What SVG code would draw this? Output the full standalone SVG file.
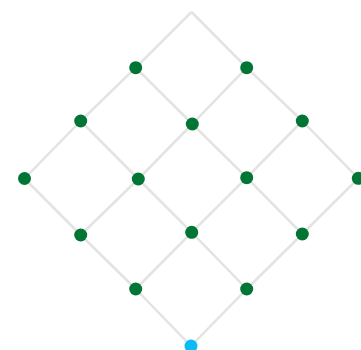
<svg xmlns="http://www.w3.org/2000/svg" width="361" height="350" viewBox="0 0 361 350">
<style>
.e{stroke:#e3e3e3;stroke-width:2.5;fill:none}
.n{fill:#007534}
.s{fill:#0abcf5}
</style>
<rect width="361" height="350" fill="#fff"/>
<g id="connectors">
<line class="e" x1="191.5" y1="12" x2="135.7" y2="67.7"/>
<line class="e" x1="191.5" y1="12" x2="246.7" y2="67.7"/>
<line class="e" x1="135.7" y1="67.7" x2="80.7" y2="121"/>
<line class="e" x1="135.7" y1="67.7" x2="192.3" y2="124"/>
<line class="e" x1="246.7" y1="67.7" x2="192.3" y2="124"/>
<line class="e" x1="246.7" y1="67.7" x2="302.3" y2="121"/>
<line class="e" x1="80.7" y1="121" x2="24.5" y2="178.5"/>
<line class="e" x1="80.7" y1="121" x2="138.3" y2="179"/>
<line class="e" x1="192.3" y1="124" x2="138.3" y2="179"/>
<line class="e" x1="192.3" y1="124" x2="246.7" y2="177.7"/>
<line class="e" x1="302.3" y1="121" x2="246.7" y2="177.7"/>
<line class="e" x1="302.3" y1="121" x2="358.3" y2="178.3"/>
<line class="e" x1="24.5" y1="178.5" x2="80.7" y2="235"/>
<line class="e" x1="138.3" y1="179" x2="80.7" y2="235"/>
<line class="e" x1="138.3" y1="179" x2="191.7" y2="232.3"/>
<line class="e" x1="246.7" y1="177.7" x2="191.7" y2="232.3"/>
<line class="e" x1="246.7" y1="177.7" x2="302.3" y2="234"/>
<line class="e" x1="358.3" y1="178.3" x2="302.3" y2="234"/>
<line class="e" x1="80.7" y1="235" x2="135.7" y2="289"/>
<line class="e" x1="191.7" y1="232.3" x2="135.7" y2="289"/>
<line class="e" x1="191.7" y1="232.3" x2="246.7" y2="289"/>
<line class="e" x1="302.3" y1="234" x2="246.7" y2="289"/>
<line class="e" x1="135.7" y1="289" x2="191" y2="346"/>
<line class="e" x1="246.7" y1="289" x2="191" y2="346"/>
</g>
<g id="n10"><circle class="n" cx="135.7" cy="67.7" r="6.5"/></g>
<g id="n01"><circle class="n" cx="246.7" cy="67.7" r="6.5"/></g>
<g id="n20"><circle class="n" cx="80.7" cy="121" r="6.5"/></g>
<g id="n11"><circle class="n" cx="192.3" cy="124" r="6.5"/></g>
<g id="n02"><circle class="n" cx="302.3" cy="121" r="6.5"/></g>
<g id="n30"><circle class="n" cx="24.5" cy="178.5" r="6.5"/></g>
<g id="n21"><circle class="n" cx="138.3" cy="179" r="6.5"/></g>
<g id="n12"><circle class="n" cx="246.7" cy="177.7" r="6.5"/></g>
<g id="n03"><circle class="n" cx="358.3" cy="178.3" r="6.5"/></g>
<g id="n31"><circle class="n" cx="80.7" cy="235" r="6.5"/></g>
<g id="n22"><circle class="n" cx="191.7" cy="232.3" r="6.5"/></g>
<g id="n13"><circle class="n" cx="302.3" cy="234" r="6.5"/></g>
<g id="n32"><circle class="n" cx="135.7" cy="289" r="6.5"/></g>
<g id="n23"><circle class="n" cx="246.7" cy="289" r="6.5"/></g>
<g id="n33"><circle class="s" cx="191" cy="346" r="6.5"/></g>
</svg>
